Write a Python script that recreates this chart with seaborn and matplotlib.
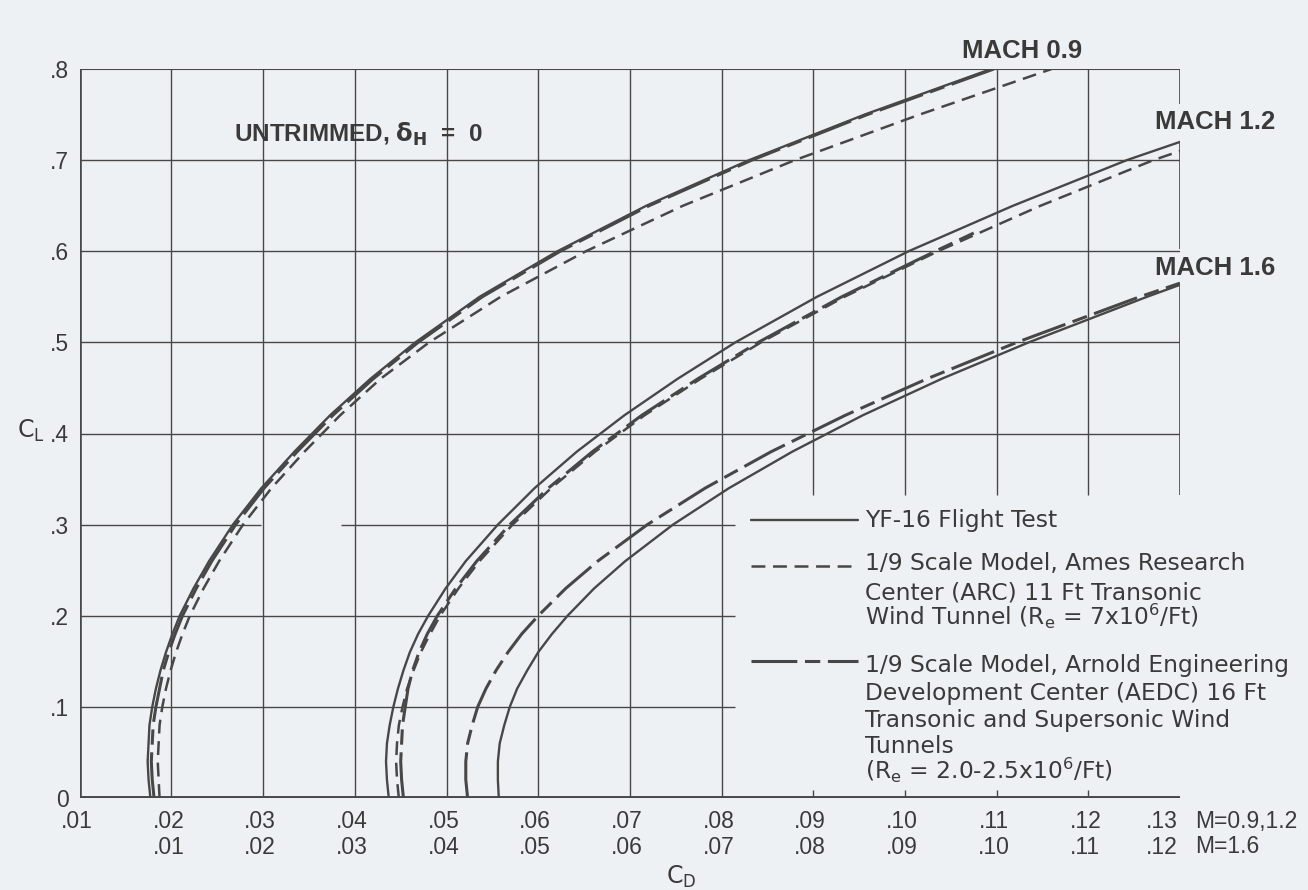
import matplotlib
matplotlib.use("Agg")
import matplotlib.pyplot as plt
from matplotlib.transforms import IdentityTransform, ScaledTranslation
import seaborn as sns
import pandas as pd

# ---------------- data ----------------
CL_M09 = [0.00, 0.02, 0.04, 0.06, 0.08, 0.10, 0.12, 0.14, 0.16, 0.18, 0.20, 0.23, 0.26,
          0.30, 0.34, 0.38, 0.42, 0.46, 0.50, 0.55, 0.60, 0.65, 0.70, 0.75, 0.80]
CD_M09_FLIGHT = [0.0177, 0.0175, 0.0174, 0.0175, 0.0176, 0.0179, 0.0183, 0.0188, 0.0194, 0.0201, 0.0209, 0.0224, 0.0241,
                 0.0267, 0.0298, 0.0334, 0.0373, 0.0417, 0.0466, 0.0536, 0.0621, 0.0718, 0.0830, 0.0956, 0.1094]
CD_M09_AEDC = [0.0181, 0.0179, 0.0178, 0.0179, 0.0180, 0.0183, 0.0187, 0.0191, 0.0197, 0.0204, 0.0212, 0.0227, 0.0244,
               0.0270, 0.0301, 0.0337, 0.0376, 0.0420, 0.0469, 0.0539, 0.0624, 0.0721, 0.0833, 0.0959, 0.1097]
CD_M09_ARC = [0.0187, 0.0186, 0.0185, 0.0186, 0.0187, 0.0190, 0.0194, 0.0199, 0.0205, 0.0212, 0.0220, 0.0235, 0.0252,
              0.0278, 0.0309, 0.0345, 0.0384, 0.0428, 0.0481, 0.0559, 0.0652, 0.0758, 0.0880, 0.1016, 0.1160]

CL_M12_FLIGHT = [0.00, 0.02, 0.04, 0.06, 0.08, 0.10, 0.12, 0.14, 0.16, 0.18, 0.20, 0.23, 0.26,
                 0.30, 0.34, 0.38, 0.42, 0.46, 0.50, 0.55, 0.60, 0.65, 0.70, 0.72]
CD_M12_FLIGHT = [0.0437, 0.0435, 0.0434, 0.0435, 0.0438, 0.0442, 0.0447, 0.0453, 0.0460, 0.0469, 0.0480, 0.0499, 0.0521,
                 0.0556, 0.0596, 0.0642, 0.0694, 0.0752, 0.0815, 0.0904, 0.1004, 0.1118, 0.1242, 0.1300]
CL_M12_ARC = [0.00, 0.02, 0.04, 0.06, 0.08, 0.10, 0.12, 0.14, 0.16, 0.18, 0.20, 0.23, 0.26,
              0.30, 0.34, 0.38, 0.42, 0.46, 0.50, 0.55, 0.60, 0.65, 0.70, 0.71]
CD_M12_ARC = [0.0448, 0.0446, 0.0445, 0.0446, 0.0448, 0.0452, 0.0457, 0.0464, 0.0472, 0.0482, 0.0493, 0.0513, 0.0536,
              0.0572, 0.0614, 0.0662, 0.0716, 0.0777, 0.0843, 0.0934, 0.1036, 0.1148, 0.1271, 0.1300]
CL_M12_AEDC = [0.00, 0.02, 0.04, 0.06, 0.08, 0.10, 0.12, 0.14, 0.16, 0.18, 0.20, 0.23, 0.26,
               0.30, 0.34, 0.38, 0.42, 0.46, 0.50, 0.55, 0.60, 0.62]
CD_M12_AEDC = [0.0453, 0.0451, 0.0450, 0.0451, 0.0452, 0.0455, 0.0458, 0.0463, 0.0470, 0.0479, 0.0490, 0.0510, 0.0533,
               0.0569, 0.0611, 0.0659, 0.0713, 0.0774, 0.0840, 0.0931, 0.1033, 0.1075]

# Mach 1.6 values are on the lower C_D scale (M=1.6)
CL_M16 = [0.00, 0.02, 0.04, 0.06, 0.08, 0.10, 0.12, 0.14, 0.16, 0.18, 0.20, 0.23, 0.26,
          0.30, 0.34, 0.38, 0.42, 0.46, 0.50, 0.55, 0.565]
CD_M16_FLIGHT = [0.0457, 0.0456, 0.0456, 0.0458, 0.0463, 0.0469, 0.0477, 0.0488, 0.0500, 0.0515, 0.0532, 0.0561, 0.0595,
                 0.0647, 0.0708, 0.0777, 0.0854, 0.0940, 0.1035, 0.1164, 0.1205]
CD_M16_AEDC = [0.0423, 0.0421, 0.0421, 0.0423, 0.0428, 0.0434, 0.0443, 0.0454, 0.0467, 0.0482, 0.0500, 0.0530, 0.0565,
               0.0619, 0.0682, 0.0754, 0.0835, 0.0924, 0.1022, 0.1156, 0.1200]
M16_SHIFT = 0.01  # lower scale reads 0.01 less than the upper scale

X_TICKS_UPPER = [0.01, 0.02, 0.03, 0.04, 0.05, 0.06, 0.07, 0.08, 0.09, 0.10, 0.11, 0.12, 0.13]
X_LABELS_UPPER = [".01", ".02", ".03", ".04", ".05", ".06", ".07", ".08", ".09", ".10", ".11", ".12", ".13"]
X_TICKS_LOWER = [0.01, 0.02, 0.03, 0.04, 0.05, 0.06, 0.07, 0.08, 0.09, 0.10, 0.11, 0.12]
X_LABELS_LOWER = [".01", ".02", ".03", ".04", ".05", ".06", ".07", ".08", ".09", ".10", ".11", ".12"]
Y_TICKS = [0.0, 0.1, 0.2, 0.3, 0.4, 0.5, 0.6, 0.7, 0.8]
Y_LABELS = ["0", ".1", ".2", ".3", ".4", ".5", ".6", ".7", ".8"]

LEGEND_LABELS = {
    "Flight": ["YF-16 Flight Test"],
    "ARC": ["1/9 Scale Model, Ames Research",
            "Center (ARC) 11 Ft Transonic",
            r"Wind Tunnel (R$_\mathrm{e}$ = 7x10$^\mathrm{6}$/Ft)"],
    "AEDC": ["1/9 Scale Model, Arnold Engineering",
             "Development Center (AEDC) 16 Ft",
             "Transonic and Supersonic Wind",
             "Tunnels",
             r"(R$_\mathrm{e}$ = 2.0-2.5x10$^\mathrm{6}$/Ft)"],
}

# ---------------- style ----------------
BG = "#eef1f3"
INK = "#474747"
TXT = "#3a3a3a"
W_PX, H_PX = 1308, 890

sns.set_theme(style="white", rc={"axes.facecolor": BG, "figure.facecolor": BG})
plt.rcParams["font.family"] = ["Liberation Sans", "DejaVu Sans"]
plt.rcParams["lines.scale_dashes"] = False
plt.rcParams["mathtext.fontset"] = "dejavusans"

STYLE = {
    "Flight": dict(lw=1.7, ls="-"),
    "ARC": dict(lw=1.8, ls=(0, (10.0, 5.5))),
    "AEDC": dict(lw=2.2, ls=(0, (33.0, 5.5, 11.0, 5.5))),
}

rows = []
def add(mach, source, cl, cd, shift=0.0):
    for c_d, c_l in zip(cd, cl):
        rows.append({"Mach": mach, "Source": source, "CD": c_d + shift, "CL": c_l})

add("0.9", "Flight", CL_M09, CD_M09_FLIGHT)
add("0.9", "AEDC", CL_M09, CD_M09_AEDC)
add("0.9", "ARC", CL_M09, CD_M09_ARC)
add("1.2", "Flight", CL_M12_FLIGHT, CD_M12_FLIGHT)
add("1.2", "AEDC", CL_M12_AEDC, CD_M12_AEDC)
add("1.2", "ARC", CL_M12_ARC, CD_M12_ARC)
add("1.6", "Flight", CL_M16, CD_M16_FLIGHT, M16_SHIFT)
add("1.6", "AEDC", CL_M16, CD_M16_AEDC, M16_SHIFT)
df = pd.DataFrame(rows)

fig = plt.figure(figsize=(W_PX / 100, H_PX / 100), dpi=100)
ax = fig.add_axes([79.8 / W_PX, (H_PX - 798) / H_PX, 1100.2 / W_PX, 729 / H_PX])
ax.set_facecolor(BG)

for (mach, src), sub in df.groupby(["Mach", "Source"], sort=False):
    sns.lineplot(data=sub, x="CD", y="CL", sort=False, estimator=None,
                 color=INK, linewidth=STYLE[src]["lw"], ax=ax)
    ln = ax.get_lines()[-1]
    ln.set_linestyle(STYLE[src]["ls"])
    ln.set_solid_joinstyle("round")

ax.set_xlim(X_TICKS_UPPER[0], X_TICKS_UPPER[-1])
ax.set_ylim(Y_TICKS[0], Y_TICKS[-1])
ax.set_xlabel("")
ax.set_ylabel("")
for s in ax.spines.values():
    s.set_visible(False)

# ---------------- grid / frame ----------------
GRID_LW = 1.0
LEGEND_TOP_CL = 0.332     # verticals right of .08 stop above the legend
LEGEND_LEFT_CD = 0.0815   # low horizontals stop left of the legend
x0, x1 = X_TICKS_UPPER[0], X_TICKS_UPPER[-1]
for x in X_TICKS_UPPER[1:8]:
    ax.vlines(x, 0, 0.8, color=INK, lw=GRID_LW)
for x in X_TICKS_UPPER[8:12]:
    ax.vlines(x, LEGEND_TOP_CL, 0.8, color=INK, lw=GRID_LW)
    ax.vlines(x, 0, 0.009, color=INK, lw=GRID_LW)
for y_lo, y_hi in [(LEGEND_TOP_CL, 0.565), (0.603, 0.721), (0.762, 0.8)]:
    ax.vlines(x1, y_lo, y_hi, color=INK, lw=GRID_LW + 0.2)
for y in Y_TICKS[1:3]:
    ax.hlines(y, x0, LEGEND_LEFT_CD, color=INK, lw=GRID_LW)
ax.hlines(Y_TICKS[3], x0, 0.0298, color=INK, lw=GRID_LW)
ax.hlines(Y_TICKS[3], 0.0385, LEGEND_LEFT_CD, color=INK, lw=GRID_LW)
for y in Y_TICKS[4:8]:
    ax.hlines(y, x0, x1, color=INK, lw=GRID_LW)
ax.hlines(Y_TICKS[-1], x0, x1, color=INK, lw=1.5)
ax.hlines(Y_TICKS[0], x0, x1, color=INK, lw=2.8)
ax.vlines(x0, 0, 0.8, color=INK, lw=2.6)

# ---------------- ticks ----------------
TICK_SIZE = 16.5
TICK_FONT = dict(family=["Liberation Sans", "DejaVu Sans"], size=TICK_SIZE)
ax.set_xticks(X_TICKS_UPPER, labels=X_LABELS_UPPER)
ax.set_yticks(Y_TICKS, labels=Y_LABELS)
ax.tick_params(axis="x", length=0, pad=9, labelsize=TICK_SIZE, labelcolor=TXT)
ax.tick_params(axis="y", length=0, pad=8, labelsize=TICK_SIZE, labelcolor=TXT)

sec = ax.secondary_xaxis("bottom", functions=(lambda v: v - M16_SHIFT, lambda v: v + M16_SHIFT))
sec.set_xticks(X_TICKS_LOWER, labels=X_LABELS_LOWER)
sec.tick_params(axis="x", length=0, pad=27, labelsize=TICK_SIZE, labelcolor=TXT)
for s in sec.spines.values():
    s.set_visible(False)

def nudge(labels, last_dx, other_dx):
    for i, lab in enumerate(labels):
        dx = last_dx if i == len(labels) - 1 else other_dx
        lab.set_transform(lab.get_transform() + ScaledTranslation(dx / 100, 0, fig.dpi_scale_trans))

nudge(ax.get_xticklabels(), -18, -3)
nudge(sec.get_xticklabels(), -18, -3)

# ---------------- texts (pixel layout) ----------------
ID = IdentityTransform()
def P(x, y):
    return x, H_PX - y

fig.text(*P(1195, 810), "M=0.9,1.2", transform=ID, ha="left", va="top", color=TXT, **TICK_FONT)
fig.text(*P(1195, 835), "M=1.6", transform=ID, ha="left", va="top", color=TXT, **TICK_FONT)

MACH_FONT = dict(family=["Liberation Sans", "DejaVu Sans"], size=18.5, weight="bold", color=TXT)
fig.text(*P(1022, 51), "MACH 0.9", transform=ID, ha="center", va="center", **MACH_FONT)
fig.text(*P(1215, 122), "MACH 1.2", transform=ID, ha="center", va="center", **MACH_FONT)
fig.text(*P(1215, 268), "MACH 1.6", transform=ID, ha="center", va="center", **MACH_FONT)

fig.text(*P(234, 142), r"UNTRIMMED, $\mathbf{\delta_H}$  =  0", transform=ID, ha="left", va="baseline",
         family=["Liberation Sans", "DejaVu Sans"], size=17.5, weight="bold", color=TXT)

LAB_FONT = dict(family=["DejaVu Sans"], size=17, color=TXT)
fig.text(*P(17, 438), r"C$_\mathrm{L}$", transform=ID, ha="left", va="baseline", **LAB_FONT)
fig.text(*P(666, 884), r"C$_\mathrm{D}$", transform=ID, ha="left", va="baseline", **LAB_FONT)

# legend (keys + multi-line labels)
LEG_FONT = dict(family=["DejaVu Sans"], size=16.8, color=TXT)
LEG_KEY_X = (751, 858)
LEG_TEXT_X = 865
LEG_KEY_Y = {"Flight": 520, "ARC": 566, "AEDC": 661}
LEG_BASELINES = {"Flight": [527], "ARC": [570, 599, 625], "AEDC": [672, 700, 727, 753, 779]}
for src in ["Flight", "ARC", "AEDC"]:
    ky = H_PX - LEG_KEY_Y[src]
    key = matplotlib.lines.Line2D(list(LEG_KEY_X), [ky, ky], transform=ID, color=INK,
                                  lw=STYLE[src]["lw"], linestyle=STYLE[src]["ls"])
    fig.add_artist(key)
    for txt, base in zip(LEGEND_LABELS[src], LEG_BASELINES[src]):
        fig.text(*P(LEG_TEXT_X, base), txt, transform=ID, ha="left", va="baseline", **LEG_FONT)

fig.savefig("out.png", dpi=100, facecolor=BG)
